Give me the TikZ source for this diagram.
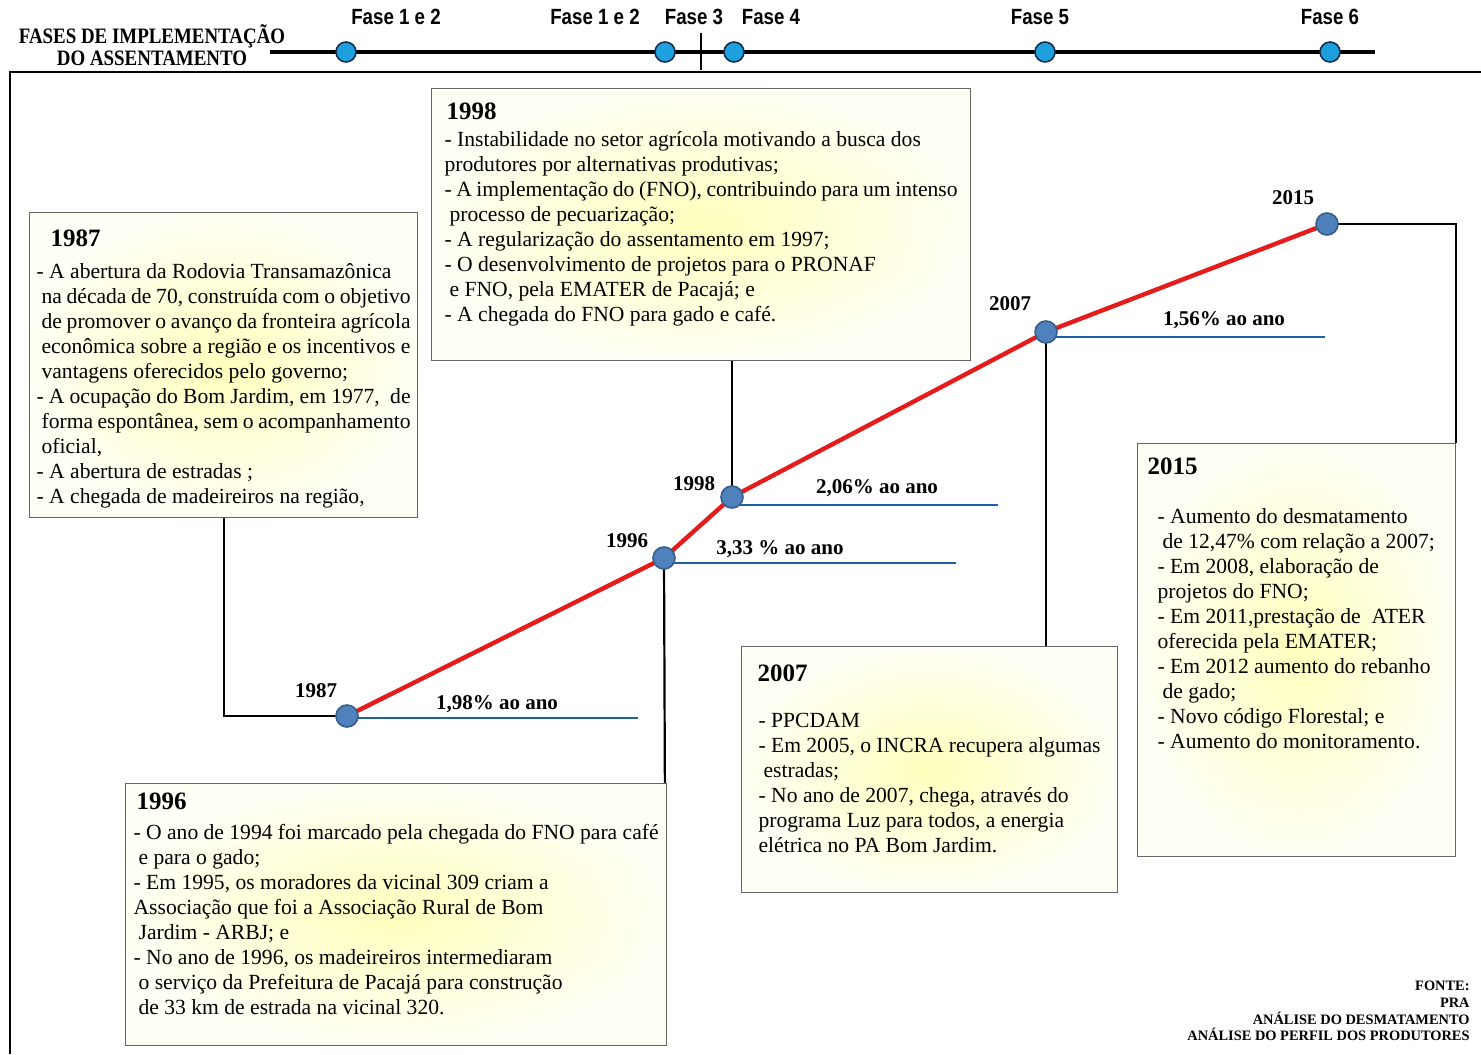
\documentclass[tikz,border=0pt]{standalone}
\usepackage{fontspec}
\setmainfont{Liberation Serif}
\newfontfamily\fasefont[FakeStretch=0.85]{Liberation Sans}
\newfontfamily\capafont[FakeStretch=0.86]{Liberation Serif}
\usepackage{tikz}
\usetikzlibrary{backgrounds}
\definecolor{tendred}{RGB}{228,28,28}
\definecolor{taxablue}{RGB}{31,94,168}
\definecolor{pontofill}{RGB}{79,129,189}
\definecolor{pontodraw}{RGB}{56,93,138}
\definecolor{fasefill}{RGB}{30,160,222}
\definecolor{fasedraw}{RGB}{22,45,80}
\def\corpo{\fontsize{10.8}{12.5}\selectfont}
\def\titulo{\fontsize{12.5}{14}\selectfont\bfseries}
\def\rotulo{\fontsize{10.5}{12}\selectfont\bfseries}
\def\rec{\hspace*{2.5pt}}
\newcommand{\caixa}[3]{\parbox[c][#2][t]{#1}{#3}}

\begin{document}
\begin{tikzpicture}[x=0.5pt,y=-0.5pt]
  \tikzstyle{ponto} = [circle,minimum size=11pt,inner sep=0pt,fill=pontofill,draw=pontodraw,line width=0.8pt];
  \tikzstyle{fase} = [circle,minimum size=10pt,inner sep=0pt,fill=fasefill,draw=fasedraw,line width=0.8pt];
  \tikzset{
    evento/.style={draw=black!60,line width=0.6pt,inner color=yellow!26,outer color=yellow!4,
      anchor=north west,inner ysep=0pt,font=\corpo},
    tendencia/.style={draw=tendred,line width=2.2pt},
    taxa/.style={draw=taxablue,line width=1.3pt},
    ligacao/.style={draw=black,line width=1.1pt},
    moldura/.style={draw=black,line width=1.2pt}
  };
  \useasboundingbox (0,0) rectangle (1481,1054);

  % fases do assentamento
  \node[font=\capafont\bfseries\fontsize{11}{11}\selectfont,align=center] (fases) at (152,45)
    {FASES DE IMPLEMENTAÇÃO\\DO ASSENTAMENTO};
  \coordinate (ini) at (270,52);
  \coordinate (fim) at (1375,52);
  \draw[line width=1.8pt] (ini) -- (fim);
  \draw[line width=0.8pt] (701,33) -- (701,70);
  \node[fase] (f1) at (346,52) {};
  \node[fase] (f2) at (665,52) {};
  \node[fase] (f3) at (734,52) {};
  \node[fase] (f5) at (1045,52) {};
  \node[fase] (f6) at (1330,52) {};
  \node[font=\fasefont\bfseries\fontsize{11}{12}\selectfont] (l1) at (396,17) {Fase 1 e 2};
  \node[font=\fasefont\bfseries\fontsize{11}{12}\selectfont] (l2) at (595,17) {Fase 1 e 2};
  \node[font=\fasefont\bfseries\fontsize{11}{12}\selectfont] (l3) at (694,17) {Fase 3};
  \node[font=\fasefont\bfseries\fontsize{11}{12}\selectfont] (l4) at (771,17) {Fase 4};
  \node[font=\fasefont\bfseries\fontsize{11}{12}\selectfont] (l5) at (1040,17) {Fase 5};
  \node[font=\fasefont\bfseries\fontsize{11}{12}\selectfont] (l6) at (1330,17) {Fase 6};
  \draw[moldura] (1481,72) -- (10,72) -- (10,1054);

  % caixas de eventos
  \node[evento,inner xsep=3.5pt] (c1987) at (29,212) {\caixa{187pt}{152.5pt}{%
    \rule{0pt}{17pt}\hspace*{7pt}{\titulo 1987}\\[3.5pt]
    - A abertura da Rodovia Transamazônica\\
    \rec na década de 70, construída com o objetivo\\
    \rec de promover o avanço da fronteira agrícola\\
    \rec econômica sobre a região e os incentivos e\\
    \rec vantagens oferecidos pelo governo;\\
    - A ocupação do Bom Jardim, em 1977,~ de\\
    \rec forma espontânea, sem o acompanhamento\\
    \rec oficial,\\
    - A abertura de estradas ;\\
    - A chegada de madeireiros na região,}};
  \node[evento,inner xsep=6.5pt] (c1998) at (431,88) {\caixa{256.5pt}{136pt}{%
    \rule{0pt}{15.5pt}\hspace*{1pt}{\titulo 1998}\\[1pt]
    - Instabilidade no setor agrícola motivando a busca dos\\
    produtores por alternativas produtivas;\\
    - A implementação do (FNO), contribuindo para um intenso\\
    \rec processo de pecuarização;\\
    - A regularização do assentamento em 1997;\\
    - O desenvolvimento de projetos para o PRONAF\\
    \rec e FNO, pela EMATER de Pacajá; e\\
    - A chegada do FNO para gado e café.}};
  \node[evento,inner xsep=4pt] (c1996) at (125,783) {\caixa{262.5pt}{131pt}{%
    \rule{0pt}{13pt}\hspace*{1.5pt}{\titulo 1996}\\[2.5pt]
    - O ano de 1994 foi marcado pela chegada do FNO para café\\
    \rec e para o gado;\\
    - Em 1995, os moradores da vicinal 309 criam a\\
    Associação que foi a Associação Rural de Bom\\
    \rec Jardim - ARBJ; e\\
    - No ano de 1996, os madeireiros intermediaram\\
    \rec o serviço da Prefeitura de Pacajá para construção\\
    \rec de 33 km de estrada na vicinal 320.}};
  \node[evento,inner xsep=8.5pt] (c2007) at (741,646) {\caixa{171pt}{123pt}{%
    \rule{0pt}{17.5pt}\hspace*{-0.5pt}{\titulo 2007}\\[10.5pt]
    - PPCDAM\\
    - Em 2005, o INCRA recupera algumas\\
    \rec estradas;\\
    - No ano de 2007, chega, através do\\
    programa Luz para todos, a energia\\
    elétrica no PA Bom Jardim.}};
  \node[evento,inner xsep=10pt] (c2015) at (1137,443) {\caixa{139pt}{206.5pt}{%
    \rule{0pt}{15.5pt}\hspace*{-5pt}{\titulo 2015}\\[12pt]
    - Aumento do desmatamento\\
    \rec de 12,47\% com relação a 2007;\\
    - Em 2008, elaboração de\\
    projetos do FNO;\\
    - Em 2011,prestação de~ ATER\\
    oferecida pela EMATER;\\
    - Em 2012 aumento do rebanho\\
    \rec de gado;\\
    - Novo código Florestal; e\\
    - Aumento do monitoramento.}};

  % pontos da curva de desmatamento
  \node[ponto] (p1987) at (347,716) {};
  \node[ponto] (p1996) at (664,558) {};
  \node[ponto] (p1998) at (732,497) {};
  \node[ponto] (p2007) at (1046,332) {};
  \node[ponto] (p2015) at (1327,224) {};
  \node[font=\rotulo] (a1987) at (316,691) {1987};
  \node[font=\rotulo] (a1996) at (627,541) {1996};
  \node[font=\rotulo] (a1998) at (694,484) {1998};
  \node[font=\rotulo] (a2007) at (1010,304) {2007};
  \node[font=\rotulo] (a2015) at (1293,198) {2015};
  \node[font=\rotulo] (t1987) at (497,704) {1,98\% ao ano};
  \node[font=\rotulo] (t1996) at (780,549) {3,33 \% ao ano};
  \node[font=\rotulo] (t1998) at (877,488) {2,06\% ao ano};
  \node[font=\rotulo] (t2007) at (1224,320) {1,56\% ao ano};
  \coordinate (r1987) at (638,718);
  \coordinate (r1996) at (956,563);
  \coordinate (r1998) at (998,505);
  \coordinate (r2007) at (1325,337);
  \coordinate (e1996) at (665,815);

  \scoped[on background layer]{
    \draw[taxa] (p1987.center |- r1987) -- (r1987);
    \draw[taxa] (p1996.center |- r1996) -- (r1996);
    \draw[taxa] (p1998.center |- r1998) -- (r1998);
    \draw[taxa] (p2007.center |- r2007) -- (r2007);
    \draw[ligacao] (c1987.south) |- (p1987.center);
    \draw[ligacao] (p1998.center) -- (p1998 |- c1998.south);
    \draw[ligacao] (p1996.center) -- (e1996);
    \draw[ligacao] (p2007.center) -- (p2007 |- c2007.north);
    \draw[ligacao] (p2015.center) -| (c2015.north east);
    \draw[tendencia] (p1987.center) -- (p1996.center) -- (p1998.center) -- (p2007.center) -- (p2015.center);
  };

  \node[font=\bfseries\fontsize{7.2}{8.3}\selectfont,align=right,anchor=north east,inner sep=0pt] (fonte) at (1470,981)
    {FONTE:\\PRA\\ANÁLISE DO DESMATAMENTO\\ANÁLISE DO PERFIL DOS PRODUTORES};
\end{tikzpicture}
\end{document}
